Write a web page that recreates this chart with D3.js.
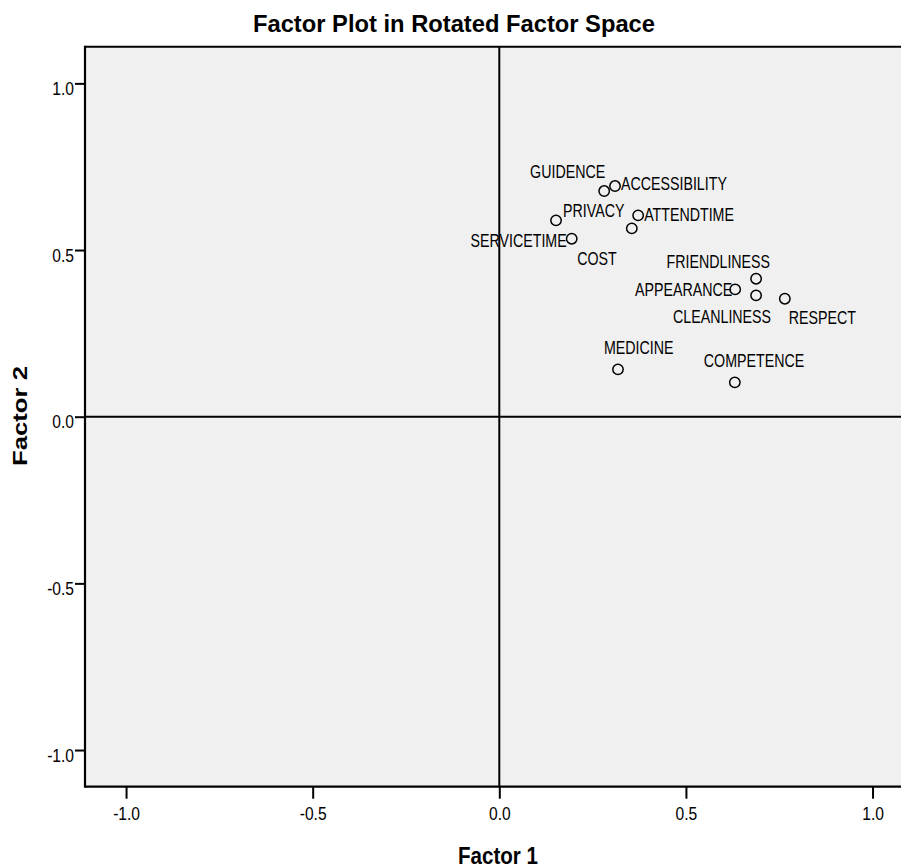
<!DOCTYPE html>
<html><head><meta charset="utf-8">
<script src="https://cdn.jsdelivr.net/npm/d3@7"></script>
<style>
html,body{margin:0;padding:0;background:#fff;}
svg{display:block;font-family:"Liberation Sans",Arial,sans-serif;}
</style></head>
<body><svg id="chart" width="901" height="868"></svg>
<script>
// ---- data ----
const variables = ["GUIDENCE","ACCESSIBILITY","PRIVACY","ATTENDTIME","COST","SERVICETIME",
  "FRIENDLINESS","APPEARANCE","CLEANLINESS","RESPECT","MEDICINE","COMPETENCE"];
const factor1 = [0.281,0.310,0.152,0.372,0.355,0.194,0.688,0.632,0.688,0.765,0.318,0.631];
const factor2 = [0.677,0.692,0.589,0.604,0.565,0.534,0.414,0.382,0.364,0.354,0.142,0.103];
const xTicks = [-1.0,-0.5,0.0,0.5,1.0];
const yTicks = [-1.0,-0.5,0.0,0.5,1.0];
const title = "Factor Plot in Rotated Factor Space";
const xTitle = "Factor 1";
const yTitle = "Factor 2";

// ---- label placement (pixel offsets from marker) ----
const labelLayout = {
  GUIDENCE:["end",1,-13], ACCESSIBILITY:["start",6,4], PRIVACY:["start",7,-3],
  ATTENDTIME:["start",6,6], COST:["end",-15,37], SERVICETIME:["end",-5,8],
  FRIENDLINESS:["end",14,-11], APPEARANCE:["end",-3,7], CLEANLINESS:["end",15,28],
  RESPECT:["start",4,25], MEDICINE:["start",-14,-15], COMPETENCE:["start",-31,-15]
};

const svg = d3.select("#chart");
const L = 85, T = 46.7, B = 786.7, R = 913.6;
const x = d3.scaleLinear().domain([-1.11,1.11]).range([L,R]);
const y = d3.scaleLinear().domain([-1.11,1.11]).range([B,T]);

function squeeze(sel, sx){
  sel.each(function(){
    const w = this.getComputedTextLength();
    d3.select(this).attr("textLength", w*sx).attr("lengthAdjust","spacingAndGlyphs");
  });
}

// plot background
svg.append("rect").attr("x",L).attr("y",T).attr("width",R-L).attr("height",B-T).attr("fill","#f0f0f0");

// reference lines
svg.append("line").attr("x1",x(0)).attr("x2",x(0)).attr("y1",T).attr("y2",B).attr("stroke","#000").attr("stroke-width",2);
svg.append("line").attr("x1",L).attr("x2",R).attr("y1",y(0)).attr("y2",y(0)).attr("stroke","#000").attr("stroke-width",2);

// frame
svg.append("line").attr("x1",L).attr("x2",R).attr("y1",T).attr("y2",T).attr("stroke","#000").attr("stroke-width",2);
svg.append("line").attr("x1",L).attr("x2",R).attr("y1",B).attr("y2",B).attr("stroke","#000").attr("stroke-width",2.2);
svg.append("line").attr("x1",L).attr("x2",L).attr("y1",T-1).attr("y2",B+1).attr("stroke","#000").attr("stroke-width",2.2);

// axes
const fmt = v => d3.format(".1f")(v).replace("\u2212","-");
const xAxis = svg.append("g").attr("transform",`translate(0,${B})`)
  .call(d3.axisBottom(x).tickValues(xTicks).tickFormat(fmt).tickSize(12).tickSizeOuter(0));
xAxis.select(".domain").remove();
xAxis.selectAll(".tick line").attr("stroke","#000").attr("stroke-width",2);
xAxis.selectAll(".tick text").attr("font-family","Liberation Sans, Arial, sans-serif")
  .attr("font-size",19).attr("fill","#000").attr("dy",null)
  .attr("y",33).call(squeeze,0.82);

const yAxis = svg.append("g").attr("transform",`translate(${L},0)`)
  .call(d3.axisLeft(y).tickValues(yTicks).tickFormat(fmt).tickSize(10).tickSizeOuter(0));
yAxis.select(".domain").remove();
yAxis.selectAll(".tick line").attr("stroke","#000").attr("stroke-width",2);
yAxis.selectAll(".tick text").attr("font-family","Liberation Sans, Arial, sans-serif")
  .attr("font-size",19).attr("fill","#000").attr("dy",null).attr("x",-11).attr("y",11)
  .call(squeeze,0.82);

// points
const pts = variables.map((v,i)=>({name:v, f1:factor1[i], f2:factor2[i]}));
svg.append("g").selectAll("circle").data(pts).join("circle")
  .attr("cx",d=>x(d.f1)).attr("cy",d=>y(d.f2)).attr("r",5.2)
  .attr("fill","none").attr("stroke","#000").attr("stroke-width",1.5);

svg.append("g").selectAll("text").data(pts).join("text")
  .attr("x",d=>x(d.f1)+labelLayout[d.name][1])
  .attr("y",d=>y(d.f2)+labelLayout[d.name][2])
  .attr("text-anchor",d=>labelLayout[d.name][0])
  .attr("font-size",18).attr("fill","#000")
  .text(d=>d.name).call(squeeze,0.79);

// titles
svg.append("text").attr("x",454).attr("y",32).attr("text-anchor","middle")
  .attr("font-size",24).attr("font-weight","bold").text(title)
  .attr("textLength",402).attr("lengthAdjust","spacingAndGlyphs");
svg.append("text").attr("x",498).attr("y",864).attr("text-anchor","middle")
  .attr("font-size",24).attr("font-weight","bold").text(xTitle)
  .attr("textLength",80).attr("lengthAdjust","spacingAndGlyphs");
svg.append("text").attr("transform","translate(27,416) rotate(-90)").attr("text-anchor","middle")
  .attr("font-size",20).attr("font-weight","bold").text(yTitle)
  .attr("textLength",100).attr("lengthAdjust","spacingAndGlyphs");
</script></body></html>
